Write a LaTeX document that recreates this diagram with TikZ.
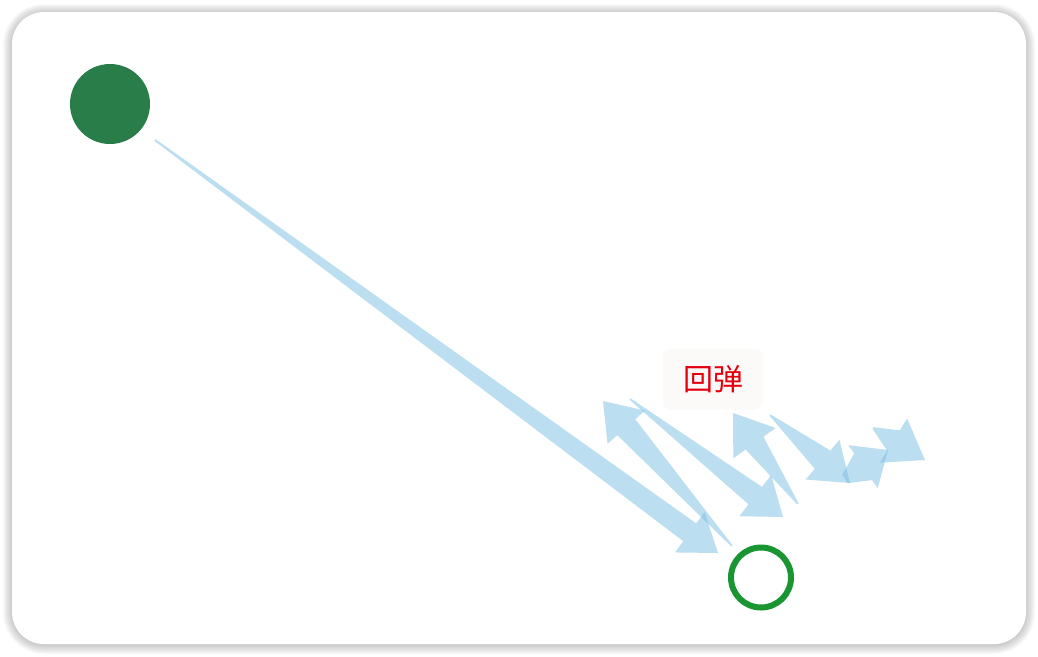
\documentclass[tikz,border=0pt]{standalone}
\usepackage{fontspec}
\newfontfamily\cjk{Noto Sans CJK SC}
\usetikzlibrary{calc}
\definecolor{arrowblue}{RGB}{120,190,228}
\definecolor{startgreen}{RGB}{40,125,72}
\definecolor{endgreen}{RGB}{25,150,50}
\definecolor{labelred}{RGB}{228,0,15}
\definecolor{labelbg}{RGB}{252,250,248}
\tikzset{
  arrowfill/.style={fill=arrowblue, fill opacity=0.5},
  cardstyle/.style={fill=white, rounded corners=32pt},
  startdot/.style={circle, fill=startgreen, minimum size=80pt, inner sep=0pt},
  enddot/.style={circle, draw=endgreen, line width=6pt, minimum size=60pt, inner sep=0pt},
  labelbox/.style={fill=labelbg, rounded corners=8pt, minimum width=100pt, minimum height=61pt, text=labelred, font=\cjk\fontsize{30}{32}\selectfont}
}
% #1 tail, #2 tip, #3 head length, #4 head half width, #5 shaft half width, #6 tail half width
\newcommand{\taperarrow}[6]{%
  \coordinate (tbase) at ($(#2)!#3!(#1)$);
  \fill[arrowfill] ($(#1)!#6!90:(#2)$) -- ($(tbase)!#5!90:(#2)$) -- ($(tbase)!#4!90:(#2)$) -- (#2)
    -- ($(tbase)!#4!-90:(#2)$) -- ($(tbase)!#5!-90:(#2)$) -- ($(#1)!#6!-90:(#2)$) -- cycle;
}
\begin{document}
\begin{tikzpicture}[x=1pt,y=-1pt]
\useasboundingbox (0,0) rectangle (1038,656);
% card shadow
\foreach \i in {1,...,9}{
  \fill[black, opacity=0.022, rounded corners={32pt+\i pt}] ({12-\i},{12-\i+1}) rectangle ({1026+\i},{644+\i+1});
}
\fill[cardstyle] (12,12) rectangle (1026,644);

% nodes
\node[startdot] (start) at (110,104) {};
\node[enddot] (end) at (761,577.5) {};
\node[labelbox] (lbl) at (713,379) {回弹};

% arrow end points
\coordinate (a1t) at (155,140);   \coordinate (a1h) at (718,553);
\coordinate (a2t) at (732,546);   \coordinate (a2h) at (603,401);
\coordinate (a3t) at (630,399);   \coordinate (a3h) at (783,517);
\coordinate (a4t) at (798,504);   \coordinate (a4h) at (733,413);
\coordinate (a5t) at (770,415);   \coordinate (a5h) at (850,483);
\coordinate (a6t) at (845,479);   \coordinate (a6h) at (888,450);
\coordinate (a7t) at (873,428);   \coordinate (a7h) at (925,460);

\taperarrow{a1t}{a1h}{35pt}{25pt}{11pt}{1pt}
\taperarrow{a2t}{a2h}{35pt}{25pt}{12pt}{0.8pt}
\taperarrow{a3t}{a3h}{35pt}{26pt}{11pt}{0.8pt}
\taperarrow{a4t}{a4h}{37pt}{26pt}{11pt}{0.8pt}
\taperarrow{a5t}{a5h}{36pt}{26pt}{12pt}{0.8pt}
\taperarrow{a6t}{a6h}{30pt}{26pt}{16pt}{5pt}
\taperarrow{a7t}{a7h}{37pt}{26pt}{12pt}{1pt}
\end{tikzpicture}
\end{document}
